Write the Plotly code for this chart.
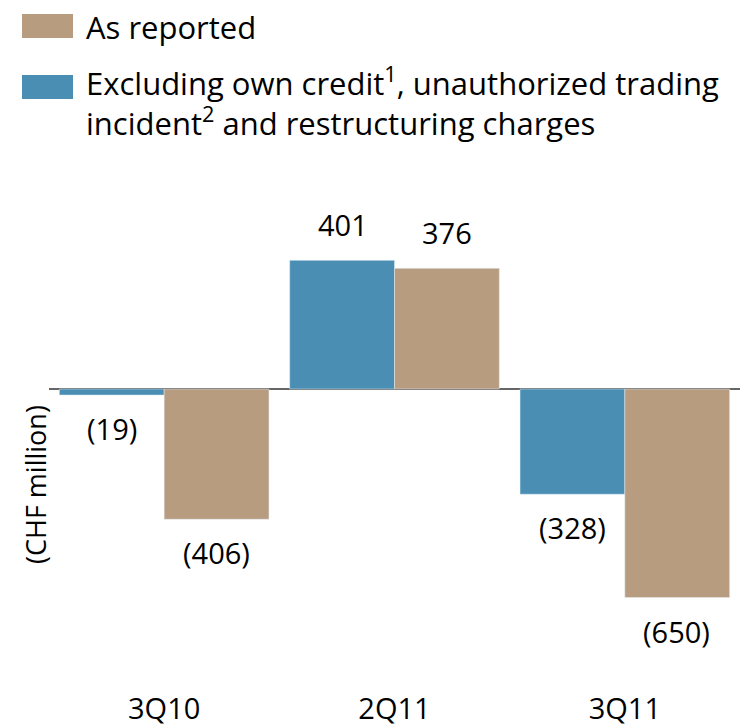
import plotly.graph_objects as go

categories = ["3Q10", "2Q11", "3Q11"]
excl_values = [-19, 401, -328]
reported_values = [-406, 376, -650]

BLUE = "#4A8FB3"
TAN = "#B79C80"
FONT = "Open Sans"

# The page body adds an 8px margin, so the figure is sized/placed accordingly.
OFF = 8
W, H = 754 - OFF, 725 - OFF
ml, mr, mt, mb = 41, 14, 192, 36
pw, ph = W - ml - mr, H - mt - mb


def fmt(v):
    return f"({abs(v)})" if v < 0 else f"{v}"


def px_to_paper(xp, yp):
    # xp, yp are window pixel coordinates
    return (xp - OFF - ml) / pw, (H - mb - (yp - OFF)) / ph


fig = go.Figure()
fig.add_trace(go.Bar(x=categories, y=excl_values, marker_color=BLUE,
                     name="Excluding own credit", showlegend=False))
fig.add_trace(go.Bar(x=categories, y=reported_values, marker_color=TAN,
                     name="As reported", showlegend=False))

annotations = []
for series, shift in ((excl_values, -52), (reported_values, 52)):
    for cat, v in zip(categories, series):
        annotations.append(dict(
            x=cat, y=v, xref="x", yref="y", text=fmt(v), showarrow=False,
            xshift=shift, yanchor="bottom" if v >= 0 else "top",
            yshift=14 if v >= 0 else -12,
            font=dict(family=FONT, size=29, color="black")))

# Y axis title
ax, ay = px_to_paper(35, 485)
annotations.append(dict(x=ax, y=ay, xref="paper", yref="paper", text="(CHF million)",
                        showarrow=False, textangle=-90, xanchor="center", yanchor="middle",
                        font=dict(family=FONT, size=27, color="black")))

# Manual legend
leg = [
    (TAN, 14, "As reported", 27),
    (BLUE, 75, "Excluding own credit<sup>1</sup>, unauthorized trading<br>incident<sup>2</sup> and restructuring charges", 101),
]
shapes = []
for color, ytop, text, ytext in leg:
    x0, y0 = px_to_paper(22, ytop + 24)
    x1, y1 = px_to_paper(73, ytop)
    shapes.append(dict(type="rect", xref="paper", yref="paper", x0=x0, x1=x1, y0=y0, y1=y1,
                       fillcolor=color, line=dict(width=0)))
    tx, ty = px_to_paper(84, ytext)
    annotations.append(dict(x=tx, y=ty, xref="paper", yref="paper", text=text, showarrow=False,
                            xanchor="left", yanchor="middle", align="left",
                            font=dict(family=FONT, size=31, color="black")))

fig.update_layout(
    width=W, height=H,
    margin=dict(l=ml, r=mr, t=mt, b=mb, autoexpand=False),
    paper_bgcolor="white", plot_bgcolor="white",
    barmode="group", bargap=0.09, bargroupgap=0,
    showlegend=False,
    xaxis=dict(showgrid=False, showline=False, ticks="", zeroline=False,
               tickfont=dict(family=FONT, size=29, color="black")),
    yaxis=dict(range=[-935, 589], showgrid=False, showticklabels=False, ticks="",
               zeroline=True, zerolinecolor="#666666", zerolinewidth=2, showline=False),
    annotations=annotations, shapes=shapes,
)

fig.write_html("out.html")
